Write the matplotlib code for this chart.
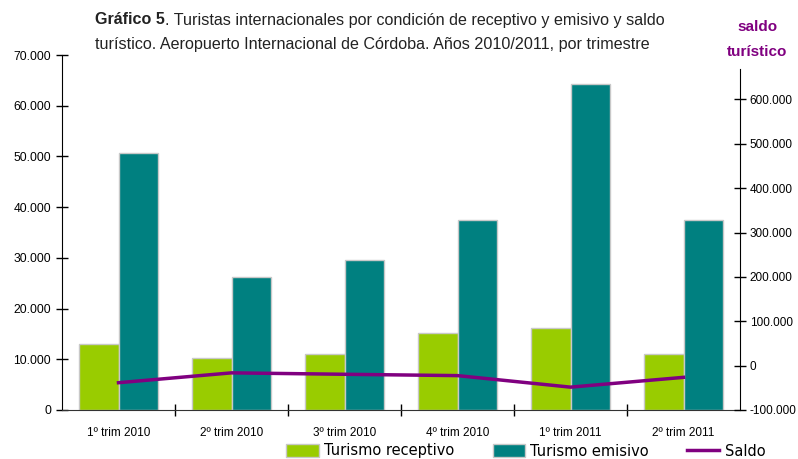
import matplotlib.pyplot as plt
import numpy as np
from matplotlib.ticker import FuncFormatter

# data
trimestres = ["1º trim 2010", "2º trim 2010", "3º trim 2010", "4º trim 2010", "1º trim 2011", "2º trim 2011"]
receptivo = [13000, 10200, 11100, 15250, 16100, 11100]
emisivo = [50600, 26200, 29600, 37400, 64250, 37400]
saldo = [-38500, -16300, -19500, -22500, -48500, -26400]

verde = "#99CC00"
teal = "#008080"
purpura = "#800080"
titulo_font = ["Liberation Sans", "DejaVu Sans"]

plt.rcParams["font.family"] = ["Liberation Sans", "DejaVu Sans"]


def miles(v, pos):
    return f"{int(v):,}".replace(",", ".")


fig = plt.figure(figsize=(7.98, 4.59), dpi=100)
ax = fig.add_axes([62/798, 1-410/459, 678/798, 355/459])
ax2 = ax.twinx()

x = np.arange(len(trimestres))
w = 0.35
ax.bar(x - w/2, receptivo, w, color=verde, edgecolor="#c8c8c8", linewidth=1, label="Turismo receptivo", zorder=2)
ax.bar(x + w/2, emisivo, w, color=teal, edgecolor="#c8c8c8", linewidth=1, label="Turismo emisivo", zorder=2)
ax2.plot(x, saldo, color=purpura, linewidth=2.5, label="Saldo", zorder=3)

ax.set_xlim(-0.5, len(trimestres) - 0.5)
ax.set_ylim(0, 70000)
ax.set_yticks(np.arange(0, 70001, 10000))
ax.yaxis.set_major_formatter(FuncFormatter(miles))
ax2.set_ylim(-100000, 700000)
ax2.set_yticks(np.arange(-100000, 600001, 100000))
ax2.yaxis.set_major_formatter(FuncFormatter(miles))

ax.set_xticks(x)
ax.set_xticklabels(trimestres)
ax.set_xticks(np.arange(0.5, len(trimestres) - 0.5, 1), minor=True)
ax.tick_params(axis="x", which="major", length=0, pad=12, labelsize=8.5)
ax.tick_params(axis="x", which="minor", direction="inout", length=8, width=1)
ax.tick_params(axis="y", direction="inout", length=8, width=1, labelsize=8.7, pad=4)
ax2.tick_params(axis="y", direction="inout", length=8, width=1, labelsize=8.5, pad=3)

for a in (ax, ax2):
    a.spines["top"].set_visible(False)
ax2.spines["left"].set_visible(False)
ax.spines["right"].set_visible(False)
ax2.spines["right"].set_bounds(-100000, 668000)
ax2.spines["bottom"].set_visible(False)
ax.spines["bottom"].set_color("#333333")

# title with bold lead-in
t1 = fig.text(95/798, 1-20/459, "Gráfico 5", fontsize=11.6, fontweight="bold", family=titulo_font, va="center", color="#222222")
fig.canvas.draw()
bb = t1.get_window_extent()
fig.text(bb.x1/798, 1-20/459, ". Turistas internacionales por condición de receptivo y emisivo y saldo",
         fontsize=11.6, family=titulo_font, va="center", color="#222222")
fig.text(95/798, 1-44/459, "turístico. Aeropuerto Internacional de Córdoba. Años 2010/2011, por trimestre",
         fontsize=11.6, family=titulo_font, va="center", color="#222222")

fig.text(757/798, 1-27/459, "saldo", fontsize=11, fontweight="bold", color=purpura, ha="center", va="center")
fig.text(757/798, 1-52/459, "turístico", fontsize=11, fontweight="bold", color=purpura, ha="center", va="center")

h1, l1 = ax.get_legend_handles_labels()
h2, l2 = ax2.get_legend_handles_labels()
fig.legend(h1 + h2, l1 + l2, loc="center", bbox_to_anchor=(526/798, 1-451/459), ncol=3, frameon=False,
           prop={"family": "DejaVu Sans", "size": 10.5}, handlelength=2.2, handleheight=0.9, handletextpad=0.4,
           columnspacing=2.6, borderpad=0)

fig.savefig("out.png", dpi=100)
